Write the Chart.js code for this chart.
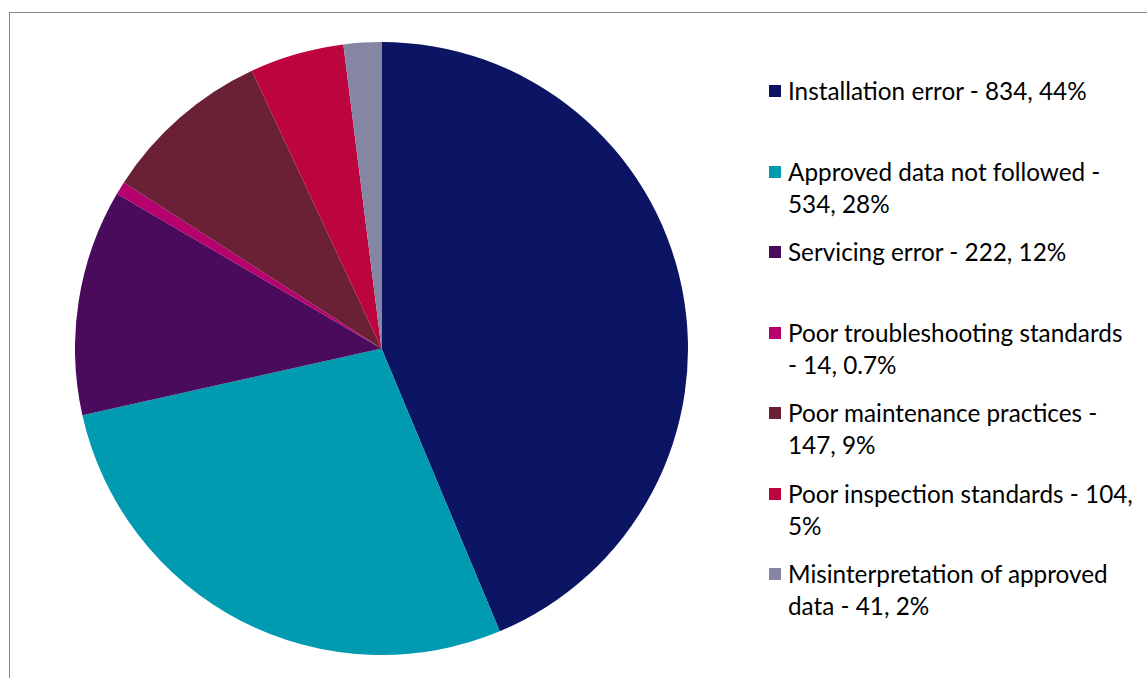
<!DOCTYPE html>
<html>
<head>
<meta charset="utf-8">
<script src="https://cdn.jsdelivr.net/npm/chart.js@4/dist/chart.umd.min.js"></script>
<style>
  html, body { margin:0; padding:0; background:#fff; width:1147px; height:678px; overflow:hidden; }
  #frame { position:absolute; left:9px; top:12px; width:1200px; height:700px; border-left:1px solid #888; border-top:1px solid #888; }
  #pieBox { position:absolute; left:75px; top:42px; width:613px; height:613px; }
  #legend { position:absolute; left:0; top:0; }
  .item { position:absolute; left:769px; width:380px; }
  .swatch { position:absolute; left:0; width:12px; height:12px; }
  .txt { position:absolute; left:19px; width:347px; font-family:Lato, "Liberation Sans", sans-serif; font-size:24.3px; line-height:32px; color:#000; }
</style>
</head>
<body>
<div id="frame"></div>
<div id="pieBox"><canvas id="c"></canvas></div>
<div id="legend"></div>
<script>
const categories = [
  "Installation error",
  "Approved data not followed",
  "Servicing error",
  "Poor troubleshooting standards",
  "Poor maintenance practices",
  "Poor inspection standards",
  "Misinterpretation of approved data"
];
const counts = [834, 534, 222, 14, 147, 104, 41];
const percents = [44, 28, 12, 0.7, 9, 5, 2];
const colors = ["#0B1563", "#009BB1", "#4A0B5D", "#B5006D", "#6A2035", "#BC053F", "#8486A3"];

new Chart(document.getElementById('c'), {
  type: 'pie',
  data: {
    labels: categories,
    datasets: [{ data: percents, backgroundColor: colors, borderWidth: 0 }]
  },
  options: {
    responsive: true,
    maintainAspectRatio: false,
    animation: false,
    layout: { padding: 0 },
    plugins: { legend: { display: false }, tooltip: { enabled: false } }
  }
});

const legend = document.getElementById('legend');
categories.forEach((name, i) => {
  const item = document.createElement('div');
  item.className = 'item';
  item.style.top = (75 + i * 80.5) + 'px';
  const sw = document.createElement('div');
  sw.className = 'swatch';
  sw.style.top = '10px';
  sw.style.background = colors[i];
  const t = document.createElement('div');
  t.className = 'txt';
  t.textContent = name + ' - ' + counts[i] + ', ' + percents[i] + '%';
  item.appendChild(sw);
  item.appendChild(t);
  legend.appendChild(item);
});
</script>
</body>
</html>
